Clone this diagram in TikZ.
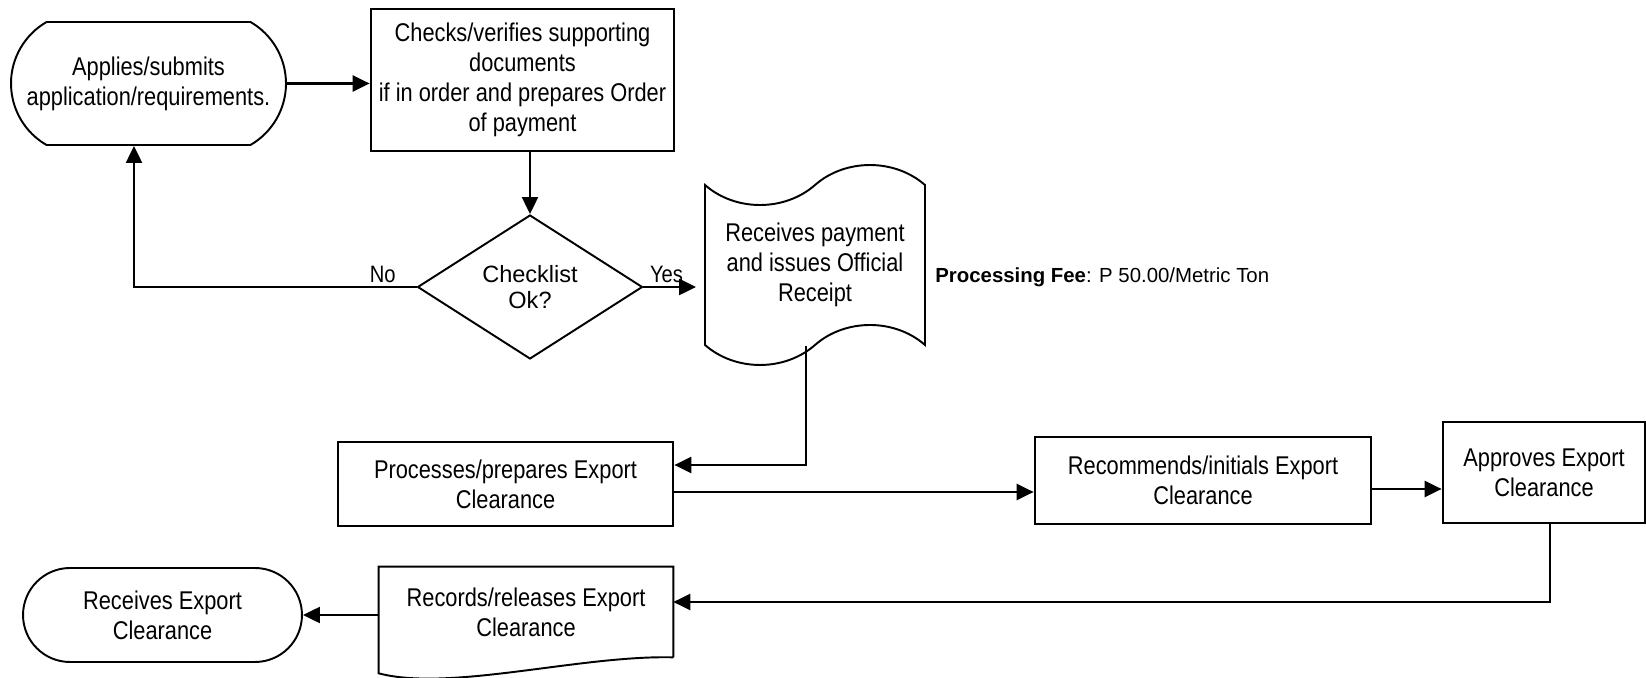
\documentclass[tikz,border=0pt]{standalone}
\usepackage{fontspec}
\setmainfont{Liberation Sans}[FakeStretch=0.85]
\newfontfamily\widefont{Liberation Sans}
\usetikzlibrary{arrows.meta,shapes.geometric,shapes.misc,shapes.symbols}
\newcommand{\flowfont}{\fontsize{14.6}{17}\selectfont}
\newcommand{\notefont}{\widefont\fontsize{11.6}{14}\selectfont}
\newcommand{\askfont}{\widefont\fontsize{13.4}{14.6}\selectfont}

\tikzset{
  box/.style={draw,line width=1.6pt,rectangle,inner sep=0pt,align=center,font=\flowfont},
  term/.style={draw,line width=1.1pt,rounded rectangle,inner sep=0pt,align=center,font=\flowfont},
  decide/.style={draw,line width=1.1pt,diamond,inner sep=0pt,align=center,font=\askfont},
  paper/.style={draw,line width=1.1pt,tape,inner sep=0pt,align=center,font=\flowfont},
  docbox/.style={rectangle,inner sep=0pt,align=center,font=\flowfont},
  flow/.style={line width=1.3pt,-{Triangle[length=0.34cm,width=0.32cm]}},
  lbl/.style={font=\fontsize{13.5}{16}\selectfont,inner sep=2pt}
}

\begin{document}
\begin{tikzpicture}[x=0.02cm,y=-0.02cm]
  \useasboundingbox (0,0) rectangle (1646,678);

  \node[term,rounded rectangle arc length=120,minimum width=5.5cm,minimum height=2.46cm] (apply) at (148.5,83.5) {Applies/submits\\application/requirements.};
  \node[box,minimum width=6.06cm,minimum height=2.84cm] (check) at (522.5,80) {Checks/verifies supporting\\documents\\if in order and prepares Order\\of payment};
  \node[decide,minimum width=4.5cm,minimum height=2.88cm] (ok) at (530,287) {Checklist\\Ok?};
  \node[paper,minimum width=4.4cm,minimum height=4cm,tape bend height=0.8cm] (receipt) at (815,265) {Receives payment\\and issues Official\\Receipt};
  \node[anchor=west,font=\notefont,inner sep=0pt] (fee) at (935,277) {\textbf{Processing Fee}: P 50.00/Metric Ton};
  \node[box,minimum width=6.7cm,minimum height=1.68cm] (process) at (505.5,484) {Processes/prepares Export\\Clearance};
  \node[box,minimum width=6.72cm,minimum height=1.74cm] (recommend) at (1203,480.5) {Recommends/initials Export\\Clearance};
  \node[box,minimum width=4.04cm,minimum height=2.02cm] (approve) at (1544,472.5) {Approves Export\\Clearance};
  \node[docbox,minimum width=5.88cm,minimum height=1.8cm] (records) at (526,612) {Records/releases Export\\Clearance};
  \node[term,rounded rectangle arc length=180,minimum width=5.58cm,minimum height=1.88cm] (finish) at (162.5,615) {Receives Export\\Clearance};

  \draw[line width=1.1pt] (records.south east) -- (records.north east) -- (records.north west)
    -- ([yshift=-0.32cm]records.south west) .. controls (450,692) and (580,655) .. (records.south east);

  \draw[flow] (apply.east) -- (apply.east -| check.west);
  \draw[flow] (check.south -| ok.north) -- (ok.north);
  \draw[flow] (ok.west) -| node[lbl,above,pos=0.06] {No} ([xshift=-0.29cm]apply.south);
  \draw[flow,shorten >=0.16cm] (ok.east) -- node[lbl,above,pos=0.38] {Yes} (ok.east -| receipt.west);
  \draw[flow] ([xshift=-0.18cm]receipt.south) |- ([yshift=0.38cm]process.east);
  \draw[flow] ([yshift=-0.16cm]process.east) -- ([yshift=-0.16cm]process.east -| recommend.west);
  \draw[flow] ([yshift=-0.17cm]recommend.east) -- ([yshift=-0.17cm]recommend.east -| approve.west);
  \draw[flow] ([xshift=0.12cm]approve.south) |- ([yshift=0.2cm]records.east);
  \draw[flow] (finish.east -| records.west) -- (finish.east);
\end{tikzpicture}
\end{document}
